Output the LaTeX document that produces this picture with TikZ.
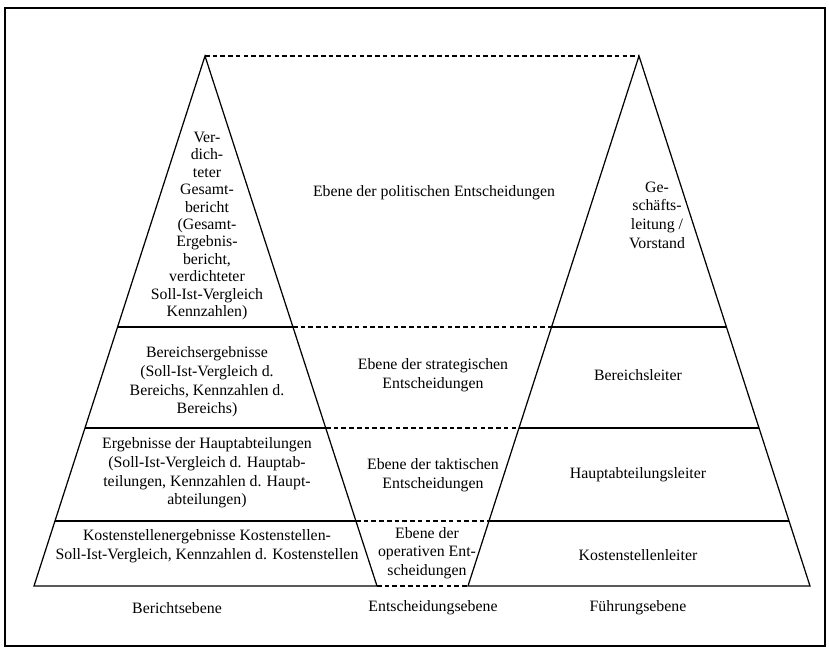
\documentclass[tikz,border=0pt]{standalone}
\usepackage{fontspec}
\setmainfont{Liberation Serif}

\begin{document}
\begin{tikzpicture}[x=0.2mm,y=-0.2mm,
		edge/.style={line width=0.7pt},
		guide/.style={line width=0.7pt,dash pattern=on 2.6pt off 1.8pt},
		txt/.style={align=center,inner sep=0pt,font=\fontsize{9}{10.6}\selectfont}]
	\useasboundingbox (0,0) rectangle (829,650);
	\draw[line width=1.2pt] (5,8) rectangle (825,646);

	% Berichtsebene
	\coordinate (b0) at (205,56);
	\coordinate (b1l) at (117,327); \coordinate (b1r) at (293,327);
	\coordinate (b2l) at (85,428);  \coordinate (b2r) at (326,428);
	\coordinate (b3l) at (55,521);  \coordinate (b3r) at (356,521);
	\coordinate (b4l) at (34,586);  \coordinate (b4r) at (377,586);
	% Fuehrungsebene
	\coordinate (f0) at (639,56);
	\coordinate (f1l) at (552,327); \coordinate (f1r) at (727,327);
	\coordinate (f2l) at (519,428); \coordinate (f2r) at (759,428);
	\coordinate (f3l) at (489,521); \coordinate (f3r) at (789,521);
	\coordinate (f4l) at (468,586); \coordinate (f4r) at (810,586);

	\draw[edge] (b4l) -- (b0) -- (b4r) -- cycle;
	\draw[edge] (f4l) -- (f0) -- (f4r) -- cycle;
	\foreach \i in {1,2,3} {
		\draw[edge] (b\i l) -- (b\i r);
		\draw[edge] (f\i l) -- (f\i r);
		\draw[guide] (b\i r) -- (f\i l);
	}
	\draw[guide] (b0) -- (f0);
	\draw[guide] (b4r) -- (f4l);

	% Texte links
	\node[txt,font=\fontsize{9}{9.9}\selectfont] (gesamt) at (207,226)
		{Ver-\\dich-\\teter\\Gesamt-\\bericht\\(Gesamt-\\Ergebnis-\\bericht,\\verdichteter\\Soll-Ist-Vergleich\\Kennzahlen)};
	\node[txt] (bereich) at (207,382)
		{Bereichsergebnisse\\(Soll-Ist-Vergleich d.\\Bereichs, Kennzahlen d.\\Bereichs)};
	\node[txt] (haupt) at (207,473)
		{Ergebnisse der Hauptabteilungen\\(Soll-Ist-Vergleich d. Hauptab-\\teilungen, Kennzahlen d. Haupt-\\abteilungen)};
	\node[txt] (kst) at (207,546)
		{Kostenstellenergebnisse Kostenstellen-\\Soll-Ist-Vergleich, Kennzahlen d. Kostenstellen};

	% Texte Mitte
	\node[txt] (polit) at (434,193) {Ebene der politischen Entscheidungen};
	\node[txt] (strat) at (433,375) {Ebene der strategischen\\Entscheidungen};
	\node[txt] (takt) at (433,475) {Ebene der taktischen\\Entscheidungen};
	\node[txt] (oper) at (427,553) {Ebene der\\operativen Ent-\\scheidungen};

	% Texte rechts
	\node[txt] (gf) at (657,215) {Ge-\\schäfts-\\leitung /\\Vorstand};
	\node[txt] (bl) at (638,375) {Bereichsleiter};
	\node[txt] (hl) at (638,475) {Hauptabteilungsleiter};
	\node[txt] (kl) at (638,555) {Kostenstellenleiter};

	% Ebenen
	\node[txt] (berichte) at (177,608) {Berichtsebene};
	\node[txt] (entsch) at (433,608) {Entscheidungsebene};
	\node[txt] (fuehr) at (638,608) {Führungsebene};
\end{tikzpicture}
\end{document}
